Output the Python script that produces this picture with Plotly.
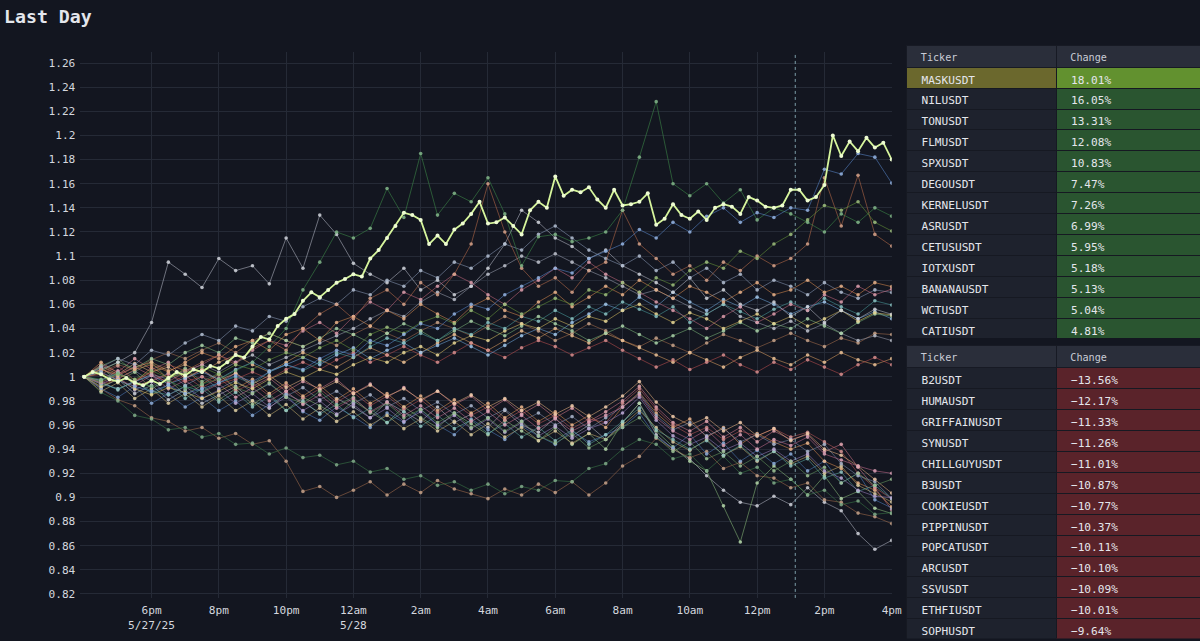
import plotly.graph_objects as go
import pandas as pd

# ---------------- data ----------------
START = pd.Timestamp("2025-05-27 16:00")
END = pd.Timestamp("2025-05-28 16:00")
MARK_TIME = "2025-05-28 13:08"

x_tick_vals = ["2025-05-27 18:00", "2025-05-27 20:00", "2025-05-27 22:00",
               "2025-05-28 00:00", "2025-05-28 02:00", "2025-05-28 04:00",
               "2025-05-28 06:00", "2025-05-28 08:00", "2025-05-28 10:00",
               "2025-05-28 12:00", "2025-05-28 14:00", "2025-05-28 16:00"]
x_tick_text = ["6pm<br>5/27/25", "8pm", "10pm", "12am<br>5/28", "2am", "4am",
               "6am", "8am", "10am", "12pm", "2pm", "4pm"]

gain_tickers = ["MASKUSDT", "NILUSDT", "TONUSDT", "FLMUSDT", "SPXUSDT", "DEGOUSDT",
                "KERNELUSDT", "ASRUSDT", "CETUSUSDT", "IOTXUSDT", "BANANAUSDT",
                "WCTUSDT", "CATIUSDT"]
gain_changes = [18.01, 16.05, 13.31, 12.08, 10.83, 7.47, 7.26, 6.99, 5.95, 5.18,
                5.13, 5.04, 4.81]
loss_tickers = ["B2USDT", "HUMAUSDT", "GRIFFAINUSDT", "SYNUSDT", "CHILLGUYUSDT",
                "B3USDT", "COOKIEUSDT", "PIPPINUSDT", "POPCATUSDT", "ARCUSDT",
                "SSVUSDT", "ETHFIUSDT", "SOPHUSDT"]
loss_changes = [-13.56, -12.17, -11.33, -11.26, -11.01, -10.87, -10.77, -10.37,
                -10.11, -10.10, -10.09, -10.01, -9.64]

# 15-minute closes, relative to start
mask = [1.000, 1.004, 1.002, 0.998, 0.996, 0.999, 0.995, 0.993, 0.997, 0.994, 0.999, 1.004,
        1.001, 1.006, 1.004, 1.009, 1.007, 1.012, 1.018, 1.016, 1.025, 1.033, 1.031, 1.042,
        1.048, 1.052, 1.063, 1.070, 1.066, 1.072, 1.078, 1.081, 1.085, 1.083, 1.098, 1.105,
        1.115, 1.125, 1.136, 1.134, 1.130, 1.110, 1.117, 1.110, 1.122, 1.127, 1.135, 1.145,
        1.127, 1.128, 1.132, 1.125, 1.118, 1.138, 1.145, 1.140, 1.166, 1.150, 1.155, 1.153,
        1.157, 1.147, 1.140, 1.155, 1.142, 1.143, 1.145, 1.152, 1.126, 1.131, 1.143, 1.134,
        1.131, 1.137, 1.130, 1.140, 1.143, 1.141, 1.135, 1.149, 1.146, 1.141, 1.140, 1.142,
        1.155, 1.155, 1.146, 1.149, 1.159, 1.200, 1.183, 1.195, 1.187, 1.198, 1.190, 1.194,
        1.180]

# 30-minute closes, relative to start
nil = [1.000, 1.004, 0.997, 0.992, 0.988, 0.993, 0.986,
       0.990, 0.995, 1.001, 0.996, 1.004, 1.010, 1.006,
       1.015, 1.022, 1.018, 1.030, 1.026, 1.035, 1.044,
       1.040, 1.052, 1.060, 1.056, 1.068, 1.075, 1.082,
       1.090, 1.086, 1.098, 1.104, 1.110, 1.122, 1.115,
       1.128, 1.120, 1.133, 1.140, 1.128, 1.136, 1.132,
       1.140, 1.138, 1.172, 1.168, 1.185, 1.182, 1.1605]
ton = [1.000, 0.998, 1.003, 0.995, 0.992, 0.997, 0.990,
       0.994, 0.998, 1.005, 1.012, 1.025, 1.040, 1.072,
       1.095, 1.120, 1.115, 1.123, 1.156, 1.132, 1.185,
       1.134, 1.152, 1.145, 1.165, 1.135, 1.092, 1.116,
       1.118, 1.112, 1.115, 1.120, 1.138, 1.182, 1.228,
       1.160, 1.150, 1.160, 1.144, 1.155, 1.130, 1.140,
       1.135, 1.128, 1.120, 1.135, 1.128, 1.140, 1.1331]
flm = [1.000, 0.996, 1.002, 0.998, 1.005, 0.999, 1.003,
       1.008, 1.002, 1.010, 1.006, 1.014, 1.020, 1.016,
       1.024, 1.030, 1.022, 1.035, 1.041, 1.036, 1.045,
       1.050, 1.044, 1.055, 1.048, 1.060, 1.052, 1.058,
       1.065, 1.060, 1.072, 1.068, 1.078, 1.070, 1.082,
       1.076, 1.088, 1.095, 1.090, 1.104, 1.098, 1.110,
       1.118, 1.130, 1.142, 1.138, 1.145, 1.128, 1.1208]
spx = [1.000, 1.006, 1.002, 0.996, 1.004, 1.010, 1.005,
       1.012, 1.018, 1.010, 1.024, 1.030, 1.022, 1.040,
       1.052, 1.060, 1.048, 1.065, 1.072, 1.060, 1.078,
       1.068, 1.085, 1.110, 1.160, 1.120, 1.090, 1.075,
       1.082, 1.070, 1.088, 1.095, 1.138, 1.110, 1.098,
       1.085, 1.092, 1.080, 1.095, 1.088, 1.100, 1.092,
       1.098, 1.110, 1.165, 1.125, 1.167, 1.118, 1.1083]
dego = [1.000, 1.003, 0.998, 1.006, 1.010, 1.004, 1.012,
        1.020, 1.015, 1.025, 1.030, 1.022, 1.035, 1.040,
        1.030, 1.045, 1.050, 1.042, 1.055, 1.048, 1.060,
        1.052, 1.045, 1.058, 1.065, 1.055, 1.050, 1.062,
        1.070, 1.058, 1.066, 1.075, 1.068, 1.080, 1.072,
        1.065, 1.075, 1.070, 1.062, 1.070, 1.078, 1.068,
        1.072, 1.080, 1.070, 1.075, 1.068, 1.078, 1.0747]
kernel = [1.000, 0.995, 1.002, 1.008, 1.001, 0.996, 1.004,
          1.010, 1.018, 1.012, 1.022, 1.030, 1.026, 1.038,
          1.045, 1.036, 1.050, 1.062, 1.055, 1.070, 1.064,
          1.075, 1.085, 1.078, 1.068, 1.060, 1.072, 1.080,
          1.090, 1.082, 1.095, 1.085, 1.078, 1.070, 1.062,
          1.055, 1.048, 1.040, 1.050, 1.058, 1.045, 1.052,
          1.060, 1.055, 1.068, 1.062, 1.075, 1.068, 1.0726]
asr = [1.000, 1.008, 1.015, 1.010, 1.022, 1.018, 1.028,
       1.035, 1.030, 1.042, 1.038, 1.050, 1.046, 1.058,
       1.065, 1.060, 1.072, 1.068, 1.080, 1.075, 1.088,
       1.082, 1.095, 1.090, 1.100, 1.110, 1.105, 1.118,
       1.125, 1.115, 1.105, 1.098, 1.092, 1.100, 1.088,
       1.095, 1.082, 1.090, 1.078, 1.085, 1.072, 1.080,
       1.075, 1.068, 1.078, 1.070, 1.065, 1.072, 1.0699]
cetus = [1.000, 0.994, 0.990, 0.996, 0.988, 0.985, 0.992,
         0.988, 0.995, 1.000, 0.994, 1.004, 1.010, 1.005,
         1.012, 1.020, 1.016, 1.025, 1.032, 1.028, 1.036,
         1.030, 1.040, 1.035, 1.045, 1.040, 1.050, 1.046,
         1.055, 1.048, 1.058, 1.052, 1.062, 1.056, 1.050,
         1.058, 1.045, 1.052, 1.060, 1.054, 1.048, 1.056,
         1.062, 1.055, 1.065, 1.058, 1.052, 1.063, 1.0595]
iotx = [1.000, 1.006, 1.012, 1.020, 1.045, 1.095, 1.085,
        1.074, 1.098, 1.088, 1.092, 1.077, 1.115, 1.090,
        1.134, 1.118, 1.094, 1.085, 1.078, 1.090, 1.072,
        1.080, 1.068, 1.075, 1.090, 1.110, 1.138, 1.128,
        1.115, 1.108, 1.098, 1.105, 1.092, 1.085, 1.078,
        1.070, 1.082, 1.065, 1.072, 1.060, 1.055, 1.062,
        1.050, 1.058, 1.045, 1.055, 1.048, 1.056, 1.0518]
banana = [1.000, 0.992, 0.998, 0.990, 0.985, 0.991, 0.987,
          0.982, 0.988, 0.995, 0.990, 0.998, 1.004, 0.999,
          1.006, 1.002, 1.010, 1.016, 1.012, 1.020, 1.025,
          1.018, 1.028, 1.034, 1.030, 1.038, 1.044, 1.040,
          1.048, 1.042, 1.050, 1.046, 1.055, 1.060, 1.052,
          1.045, 1.053, 1.048, 1.040, 1.046, 1.052, 1.044,
          1.050, 1.042, 1.048, 1.055, 1.046, 1.053, 1.0513]
wct = [1.000, 1.005, 1.012, 1.007, 1.015, 1.010, 1.020,
       1.026, 1.020, 1.032, 1.028, 1.036, 1.030, 1.025,
       1.032, 1.040, 1.035, 1.028, 1.036, 1.044, 1.038,
       1.030, 1.038, 1.046, 1.040, 1.034, 1.042, 1.050,
       1.044, 1.038, 1.030, 1.036, 1.042, 1.035, 1.028,
       1.034, 1.040, 1.032, 1.038, 1.045, 1.038, 1.044,
       1.040, 1.048, 1.042, 1.036, 1.045, 1.052, 1.0504]
cati = [1.000, 0.997, 1.003, 0.996, 1.001, 0.994, 0.999,
        1.004, 0.998, 1.006, 1.012, 1.005, 1.010, 1.016,
        1.010, 1.018, 1.024, 1.015, 1.022, 1.028, 1.020,
        1.026, 1.032, 1.025, 1.018, 1.026, 1.034, 1.040,
        1.035, 1.045, 1.052, 1.060, 1.055, 1.066, 1.058,
        1.070, 1.062, 1.055, 1.064, 1.058, 1.066, 1.060,
        1.052, 1.058, 1.062, 1.055, 1.048, 1.054, 1.0481]
mid_a = [1.000, 1.004, 1.010, 1.006, 1.014, 1.020, 1.015,
         1.022, 1.028, 1.020, 1.030, 1.036, 1.030, 1.025,
         1.032, 1.026, 1.035, 1.042, 1.036, 1.030, 1.038,
         1.045, 1.040, 1.034, 1.042, 1.050, 1.044, 1.038,
         1.030, 1.036, 1.044, 1.038, 1.030, 1.025, 1.032,
         1.026, 1.020, 1.028, 1.035, 1.030, 1.024, 1.030,
         1.036, 1.030, 1.025, 1.032, 1.028, 1.036, 1.035]
mid_b = [1.000, 0.995, 0.990, 0.996, 1.002, 0.998, 1.005,
         1.010, 1.004, 1.012, 1.018, 1.010, 1.016, 1.022,
         1.028, 1.034, 1.040, 1.048, 1.055, 1.050, 1.062,
         1.070, 1.064, 1.075, 1.085, 1.092, 1.100, 1.095,
         1.102, 1.095, 1.088, 1.082, 1.075, 1.068, 1.072,
         1.065, 1.058, 1.052, 1.060, 1.050, 1.045, 1.040,
         1.046, 1.038, 1.044, 1.036, 1.030, 1.034, 1.030]
mid_c = [1.000, 1.006, 1.001, 1.008, 1.012, 1.005, 1.010,
         1.004, 1.012, 1.018, 1.010, 1.004, 1.012, 1.020,
         1.014, 1.008, 1.016, 1.024, 1.018, 1.012, 1.020,
         1.028, 1.035, 1.028, 1.022, 1.030, 1.038, 1.032,
         1.040, 1.034, 1.028, 1.036, 1.030, 1.024, 1.018,
         1.012, 1.020, 1.014, 1.008, 1.016, 1.022, 1.015,
         1.010, 1.018, 1.012, 1.020, 1.014, 1.010, 1.015]
mid_d = [1.000, 0.994, 0.998, 0.992, 0.997, 1.002, 0.996,
         1.000, 0.994, 0.998, 1.004, 0.998, 1.006, 1.012,
         1.006, 1.014, 1.020, 1.012, 1.018, 1.025, 1.018,
         1.012, 1.020, 1.028, 1.022, 1.016, 1.024, 1.030,
         1.025, 1.018, 1.024, 1.030, 1.022, 1.015, 1.008,
         1.014, 1.006, 1.012, 1.018, 1.010, 1.004, 1.012,
         1.006, 1.014, 1.008, 1.002, 1.010, 1.016, 1.010]
b2 = [1.000, 0.991, 0.998, 0.986, 0.993, 0.981, 0.989,
      0.978, 0.985, 0.992, 0.980, 0.974, 0.986, 0.979,
      0.970, 0.982, 0.975, 0.966, 0.979, 0.971, 0.963,
      0.975, 0.962, 0.969, 0.958, 0.972, 0.960, 0.954,
      0.966, 0.951, 0.960, 0.948, 0.962, 0.978, 0.952,
      0.940, 0.932, 0.918, 0.906, 0.896, 0.893, 0.901,
      0.894, 0.908, 0.896, 0.889, 0.870, 0.857, 0.8644]
huma = [1.000, 0.990, 0.981, 0.976, 0.966, 0.963, 0.955,
        0.958, 0.949, 0.953, 0.944, 0.947, 0.930, 0.905,
        0.909, 0.900, 0.906, 0.913, 0.902, 0.911, 0.904,
        0.914, 0.907, 0.903, 0.899, 0.907, 0.902, 0.911,
        0.904, 0.913, 0.902, 0.912, 0.926, 0.934, 0.949,
        0.940, 0.933, 0.938, 0.924, 0.929, 0.918, 0.916,
        0.908, 0.912, 0.898, 0.896, 0.887, 0.884, 0.8783]
griffain = [1.000, 1.008, 0.996, 1.004, 0.990, 0.998, 0.985,
            0.993, 0.981, 0.990, 0.977, 0.986, 0.972, 0.983,
            0.976, 0.968, 0.980, 0.971, 0.962, 0.975, 0.966,
            0.958, 0.970, 0.961, 0.952, 0.964, 0.955, 0.947,
            0.958, 0.944, 0.953, 0.940, 0.962, 0.978, 0.955,
            0.942, 0.930, 0.922, 0.893, 0.863, 0.912, 0.926,
            0.915, 0.902, 0.918, 0.899, 0.905, 0.891, 0.8867]
syn = [1.000, 0.987, 0.980, 0.968, 0.965, 0.956, 0.958,
       0.950, 0.953, 0.944, 0.945, 0.936, 0.941, 0.933,
       0.935, 0.927, 0.930, 0.921, 0.924, 0.915, 0.918,
       0.910, 0.913, 0.906, 0.911, 0.903, 0.909, 0.906,
       0.914, 0.913, 0.924, 0.928, 0.940, 0.948, 0.944,
       0.932, 0.936, 0.922, 0.934, 0.920, 0.925, 0.912,
       0.915, 0.902, 0.906, 0.894, 0.897, 0.886, 0.8874]
chillguy = [1.000, 1.010, 1.004, 1.015, 1.006, 1.012, 0.998,
            1.006, 0.995, 1.003, 0.992, 0.999, 0.988, 0.996,
            0.990, 0.998, 0.986, 0.994, 0.983, 0.991, 0.980,
            0.988, 0.977, 0.984, 0.972, 0.981, 0.969, 0.977,
            0.966, 0.974, 0.963, 0.971, 0.980, 0.992, 0.975,
            0.962, 0.955, 0.963, 0.950, 0.958, 0.946, 0.955,
            0.948, 0.952, 0.938, 0.944, 0.925, 0.908, 0.8899]
b3 = [1.000, 0.990, 0.983, 0.992, 0.978, 0.986, 0.975,
      0.983, 0.972, 0.980, 0.968, 0.977, 0.985, 0.971,
      0.964, 0.975, 0.967, 0.958, 0.970, 0.962, 0.973,
      0.960, 0.952, 0.965, 0.956, 0.948, 0.959, 0.951,
      0.944, 0.955, 0.946, 0.952, 0.958, 0.970, 0.950,
      0.941, 0.952, 0.936, 0.945, 0.930, 0.939, 0.928,
      0.936, 0.922, 0.930, 0.912, 0.920, 0.898, 0.8913]
cookie = [1.000, 1.012, 1.003, 0.995, 1.008, 0.999, 1.006,
          0.994, 1.002, 0.990, 0.998, 0.986, 0.995, 0.984,
          0.993, 0.981, 0.990, 0.978, 0.986, 0.975, 0.984,
          0.972, 0.981, 0.970, 0.978, 0.966, 0.975, 0.963,
          0.971, 0.960, 0.968, 0.958, 0.975, 0.987, 0.970,
          0.958, 0.965, 0.950, 0.958, 0.944, 0.953, 0.946,
          0.940, 0.945, 0.930, 0.924, 0.912, 0.906, 0.8923]
pippin = [1.000, 0.988, 0.995, 0.982, 0.990, 0.978, 0.986,
          0.975, 0.984, 0.972, 0.980, 0.968, 0.977, 0.965,
          0.974, 0.963, 0.971, 0.960, 0.968, 0.957, 0.965,
          0.955, 0.963, 0.952, 0.961, 0.950, 0.958, 0.947,
          0.955, 0.945, 0.953, 0.948, 0.960, 0.972, 0.958,
          0.946, 0.939, 0.948, 0.935, 0.942, 0.930, 0.938,
          0.928, 0.934, 0.920, 0.926, 0.910, 0.903, 0.8963]
popcat = [1.000, 1.002, 1.009, 0.997, 1.004, 0.994, 1.001,
          0.991, 0.999, 0.988, 0.995, 0.984, 0.993, 0.982,
          0.990, 0.979, 0.987, 0.976, 0.984, 0.973, 0.981,
          0.970, 0.978, 0.968, 0.975, 0.964, 0.972, 0.961,
          0.968, 0.957, 0.965, 0.962, 0.978, 0.990, 0.973,
          0.960, 0.952, 0.958, 0.948, 0.955, 0.951, 0.957,
          0.950, 0.954, 0.946, 0.938, 0.920, 0.908, 0.8989]
arc = [1.000, 0.996, 0.989, 0.997, 0.986, 0.993, 0.982,
       0.990, 0.979, 0.987, 0.975, 0.984, 0.972, 0.980,
       0.969, 0.977, 0.966, 0.974, 0.962, 0.971, 0.959,
       0.968, 0.957, 0.964, 0.953, 0.961, 0.950, 0.958,
       0.947, 0.956, 0.944, 0.952, 0.963, 0.974, 0.956,
       0.948, 0.940, 0.947, 0.935, 0.943, 0.931, 0.938,
       0.926, 0.932, 0.916, 0.921, 0.905, 0.910, 0.8990]
ssv = [1.000, 1.007, 0.999, 1.005, 0.996, 1.003, 0.993,
       1.000, 0.990, 0.997, 0.987, 0.994, 0.984, 0.991,
       0.981, 0.988, 0.978, 0.985, 0.975, 0.982, 0.972,
       0.979, 0.969, 0.976, 0.966, 0.973, 0.963, 0.970,
       0.960, 0.967, 0.957, 0.966, 0.975, 0.986, 0.968,
       0.956, 0.962, 0.951, 0.957, 0.946, 0.952, 0.944,
       0.948, 0.938, 0.944, 0.928, 0.918, 0.913, 0.8991]
ethfi = [1.000, 0.994, 1.000, 0.989, 0.996, 0.985, 0.992,
         0.982, 0.989, 0.978, 0.986, 0.975, 0.983, 0.972,
         0.980, 0.969, 0.977, 0.966, 0.974, 0.963, 0.971,
         0.960, 0.968, 0.957, 0.965, 0.954, 0.962, 0.951,
         0.959, 0.949, 0.957, 0.962, 0.970, 0.983, 0.964,
         0.951, 0.944, 0.950, 0.939, 0.945, 0.934, 0.940,
         0.930, 0.936, 0.922, 0.916, 0.906, 0.901, 0.8999]
soph = [1.000, 1.009, 1.002, 1.011, 1.004, 1.008, 0.999,
        1.006, 0.997, 1.003, 0.994, 1.001, 0.991, 0.998,
        0.989, 0.996, 0.986, 0.993, 0.984, 0.990, 0.981,
        0.988, 0.978, 0.985, 0.975, 0.982, 0.972, 0.979,
        0.969, 0.976, 0.967, 0.975, 0.984, 0.996, 0.979,
        0.967, 0.960, 0.966, 0.955, 0.962, 0.951, 0.957,
        0.947, 0.953, 0.940, 0.935, 0.926, 0.915, 0.9036]
mid_e = [1.000, 1.009, 1.015, 1.004, 1.012, 0.998, 1.007,
         0.996, 1.003, 0.991, 0.986, 0.995, 0.983, 0.978,
         0.988, 0.976, 0.983, 0.970, 0.978, 0.966, 0.973,
         0.962, 0.970, 0.958, 0.966, 0.955, 0.963, 0.951,
         0.945, 0.953, 0.941, 0.948, 0.958, 0.966, 0.950,
         0.938, 0.946, 0.932, 0.938, 0.926, 0.934, 0.922,
         0.930, 0.918, 0.925, 0.912, 0.920, 0.910, 0.915]
mid_f = [1.000, 0.997, 1.005, 0.993, 1.001, 0.990, 0.997,
         0.987, 0.994, 0.983, 0.991, 0.980, 0.988, 0.977,
         0.985, 0.974, 0.982, 0.971, 0.979, 0.968, 0.976,
         0.966, 0.974, 0.963, 0.971, 0.960, 0.968, 0.957,
         0.965, 0.955, 0.962, 0.968, 0.975, 0.985, 0.966,
         0.955, 0.948, 0.956, 0.943, 0.952, 0.940, 0.948,
         0.943, 0.950, 0.936, 0.931, 0.926, 0.922, 0.920]

# ---------------- styling ----------------
# The captured page area is slightly larger than the requested window and is
# resized to 1200x641, so the figure fills that area; pixel sizes are divided by
# the resize factors KX / KY.
FIG_W, FIG_H = 1215, 645
KX = 1200 / FIG_W
KY = 641 / FIG_H
BG = "#131620"
GRID = "#252a36"
TXT = "#d4d7de"
FONT = "DejaVu Sans Mono"

series = [
    # lower group first (drawn underneath)
    ("B2USDT", b2, "#b4b8c4"),
    ("HUMAUSDT", huma, "#a8704c"),
    ("GRIFFAINUSDT", griffain, "#8cc07c"),
    ("SYNUSDT", syn, "#3c7d48"),
    ("CHILLGUYUSDT", chillguy, "#d4788a"),
    ("B3USDT", b3, "#5080c0"),
    ("COOKIEUSDT", cookie, "#e09050"),
    ("PIPPINUSDT", pippin, "#c8b070"),
    ("POPCATUSDT", popcat, "#c05a5a"),
    ("ARCUSDT", arc, "#5aa8a0"),
    ("SSVUSDT", ssv, "#8090b0"),
    ("ETHFIUSDT", ethfi, "#9a80c0"),
    ("SOPHUSDT", soph, "#e8b080"),
    ("", mid_e, "#6aa060"),
    ("", mid_f, "#c87090"),
    ("", mid_a, "#a8704c"),
    ("", mid_b, "#9aa0b0"),
    ("", mid_c, "#e0a060"),
    ("", mid_d, "#c05050"),
    ("CATIUSDT", cati, "#6fa8dc"),
    ("WCTUSDT", wct, "#7cb87a"),
    ("BANANAUSDT", banana, "#d8c060"),
    ("IOTXUSDT", iotx, "#b8bcc8"),
    ("CETUSUSDT", cetus, "#4aa0a0"),
    ("ASRUSDT", asr, "#8a9ab8"),
    ("KERNELUSDT", kernel, "#c86a80"),
    ("DEGOUSDT", dego, "#d98a4e"),
    ("SPXUSDT", spx, "#c0704a"),
    ("FLMUSDT", flm, "#6a9a3a"),
    ("TONUSDT", ton, "#3f8f4a"),
    ("NILUSDT", nil, "#5b8bd0"),
]


def rgba(hex_color, alpha, lighten=0.0):
    h = hex_color.lstrip("#")
    r, g, b = (int(h[i:i + 2], 16) for i in (0, 2, 4))
    r = int(r + (255 - r) * lighten)
    g = int(g + (255 - g) * lighten)
    b = int(b + (255 - b) * lighten)
    return f"rgba({r},{g},{b},{alpha})"


def times_for(vals):
    return pd.date_range(START, END, periods=len(vals))


fig = go.Figure()

for name, vals, col in series:
    fig.add_trace(go.Scatter(
        x=times_for(vals), y=vals, name=name, mode="lines+markers",
        line=dict(color=rgba(col, 0.55), width=1),
        marker=dict(size=3.6, color=rgba(col, 0.85, 0.35), line=dict(width=0)),
        showlegend=False, hoverinfo="skip" if not name else "x+y+name",
    ))

fig.add_trace(go.Scatter(
    x=times_for(mask), y=mask, name="MASKUSDT", mode="lines+markers",
    line=dict(color="#d6f59c", width=1.8),
    marker=dict(size=4, color="#eefcd2", line=dict(width=0)),
    showlegend=False,
))

# vertical dotted marker line
fig.add_shape(type="line", xref="x", yref="paper", x0=MARK_TIME, x1=MARK_TIME,
              y0=1 - 597 / 641, y1=1 - 52 / 641,
              line=dict(color="rgba(170,215,225,0.7)", width=1, dash="dot"))

# ---------------- tables ----------------
PAD = "\u00a0"
NEUTRAL = "#1e222d"


def table(tickers, changes, domain_y, hi_left, hi_right, body_right):
    tick_txt = [PAD + t for t in tickers]
    chg_txt = [PAD + (f"{c:.2f}%" if c >= 0 else f"\u2212{abs(c):.2f}%") for c in changes]
    left_fill = [hi_left if i == 0 else NEUTRAL for i in range(len(tickers))]
    right_fill = [hi_right if i == 0 else body_right for i in range(len(tickers))]
    return go.Table(
        domain=dict(x=[903 / 1200, 1198 / 1200], y=domain_y),
        columnwidth=[149, 146],
        header=dict(values=[PAD + "Ticker", PAD + "Change"], align="left",
                    fill_color="#2a2e3a", line=dict(color="#171a24", width=1),
                    font=dict(family=FONT, size=10 / KX, color="#c9ccd6"), height=22 / KY),
        cells=dict(values=[tick_txt, chg_txt], align="left",
                   fill_color=[left_fill, right_fill],
                   line=dict(color="#161922", width=1),
                   font=dict(family=FONT, size=11 / KX, color="#e4e6ec"), height=20.8 / KY),
    )


fig.add_trace(table(gain_tickers, gain_changes, [1 - 338 / 641, 1 - 45 / 641],
                    "#6b682d", "#62912f", "#2a5530"))
fig.add_trace(table(loss_tickers, loss_changes, [1 - 638 / 641, 1 - 345 / 641],
                    NEUTRAL, "#5a232a", "#5a232a"))

# ---------------- layout ----------------
fig.update_layout(
    width=FIG_W, height=FIG_H,
    margin=dict(l=0, r=0, t=0, b=0, pad=0),
    paper_bgcolor=BG, plot_bgcolor=BG,
    font=dict(family=FONT, size=11 / KX, color=TXT),
    hovermode="closest",
    xaxis=dict(
        domain=[80 / 1200, 888 / 1200],
        range=[pd.Timestamp("2025-05-27 15:53"), END],
        tickvals=x_tick_vals, ticktext=x_tick_text,
        showgrid=True, gridcolor=GRID, gridwidth=1,
        zeroline=False, showline=False, ticks="",
        tickfont=dict(family=FONT, size=11 / KX, color=TXT),
        ticklabelstandoff=4,
    ),
    yaxis=dict(
        domain=[1 - 597 / 641, 1 - 52 / 641],
        range=[0.8167, 1.2691], tick0=0.82, dtick=0.02,
        showgrid=True, gridcolor=GRID, gridwidth=1,
        zeroline=False, showline=False, ticks="",
        tickfont=dict(family=FONT, size=11 / KX, color=TXT),
        ticklabelstandoff=4,
    ),
    annotations=[dict(
        text="<b>Last Day</b>", xref="paper", yref="paper",
        x=2 / 1200, y=1 - 4 / 641, xanchor="left", yanchor="top", showarrow=False,
        font=dict(family=FONT, size=18 / KX, color="#e4e6ec"),
    )],
)

fig.write_html(
    "out.html", config=dict(displayModeBar=False),
    post_script=(
        "var s=document.createElement('style');"
        "s.textContent='html,body{margin:0;padding:0;background:#131620;}';"
        "document.head.appendChild(s);"
    ),
)
